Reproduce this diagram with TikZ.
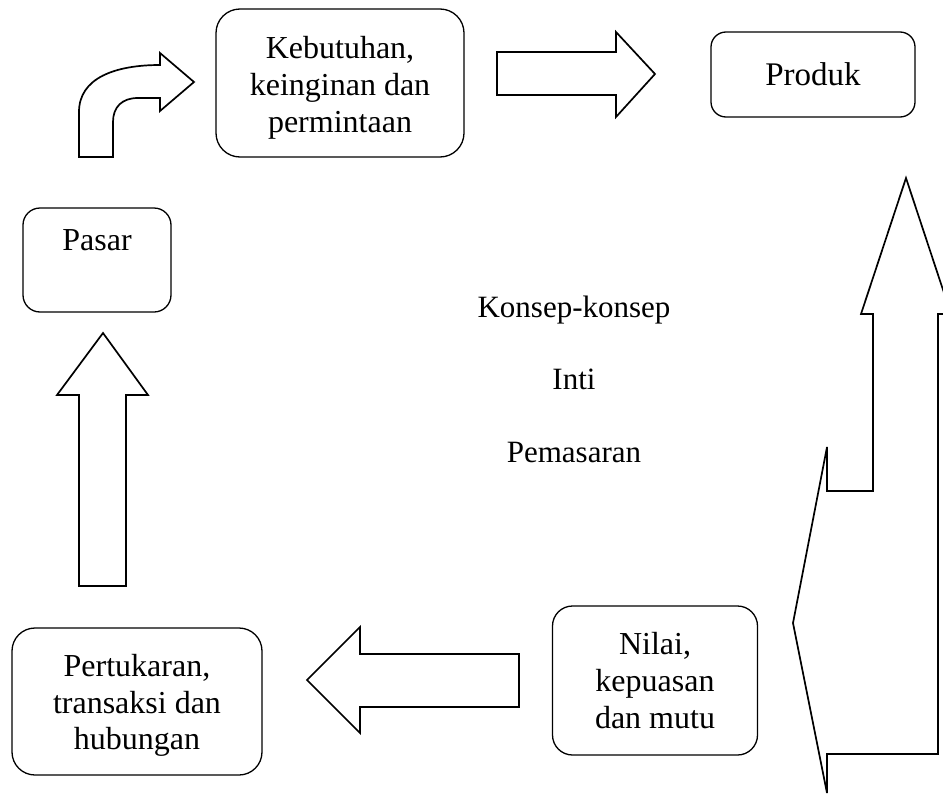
\documentclass[tikz,border=0pt]{standalone}
\usepackage{fontspec}
\setmainfont{Liberation Serif}
\newcommand{\upstrut}[1]{\rule{0pt}{#1}}
\begin{document}
\begin{tikzpicture}[x=1pt,y=-1pt,
  box/.style={draw, line width=1.3pt, rounded corners=#1, inner sep=0pt,
    font=\fontsize{32}{36.8}\selectfont},
  box/.default=20pt,
  blockarrow/.style={draw, line width=1.7pt, line join=miter, fill=white}]
\useasboundingbox (0,0) rectangle (943,798);

% boxes
\node[box=24pt, align=center, minimum width=248pt, minimum height=148pt] (keb) at (340,83)
  {\upstrut{32pt}Kebutuhan,\\keinginan dan\\permintaan};
\node[box=15pt, minimum width=204pt, minimum height=85pt, font=\fontsize{33}{38}\selectfont] (prod) at (813,74.5) {Produk};
\node[box=17pt, minimum width=148pt, minimum height=104pt, text height=22pt, text depth=42pt] (pasar) at (97,260) {Pasar};
\node[box=23pt, align=center, minimum width=250pt, minimum height=147pt] (pert) at (137,701.5)
  {\upstrut{30pt}Pertukaran,\\transaksi dan\\hubungan};
\node[box=20pt, align=center, minimum width=205pt, minimum height=149pt] (nilai) at (655,680.5)
  {Nilai,\\kepuasan\\dan mutu};

% centre text
\node[align=center, font=\fontsize{31}{72.5}\selectfont] (core) at (574,379)
  {Konsep-konsep\\Inti\\Pemasaran};

% curved arrow: Pasar -> Kebutuhan
\draw[blockarrow] (79,157) -- (79,112) .. controls (79,78) and (115,65) .. (160,65)
  -- (160,53) -- (194,82) -- (160,111) -- (160,98) -- (138,98)
  .. controls (122,98) and (113,107) .. (113,122) -- (113,157) -- cycle;

% right arrow: Kebutuhan -> Produk
\draw[blockarrow] (497,52) -- (616,52) -- (616,32) -- (655,74) -- (616,117)
  -- (616,95) -- (497,95) -- cycle;

% up arrow: Pertukaran -> Pasar
\draw[blockarrow] (79,586) -- (79,395) -- (57,395) -- (103,333) -- (148,395)
  -- (126,395) -- (126,586) -- cycle;

% left arrow: Nilai -> Pertukaran
\draw[blockarrow] (519,654) -- (360,654) -- (360,627) -- (307,680) -- (360,733)
  -- (360,707) -- (519,707) -- cycle;

% big right arrow: Nilai -> Produk
\begin{scope}
\clip (0,0) rectangle (943,798);
\draw[blockarrow] (873,491) -- (873,314) -- (861,314) -- (906,178) -- (951,314)
  -- (938,314) -- (938,754) -- (827,754) -- (827,793) -- (793,623) -- (827,447)
  -- (827,491) -- cycle;
\end{scope}
\end{tikzpicture}
\end{document}
